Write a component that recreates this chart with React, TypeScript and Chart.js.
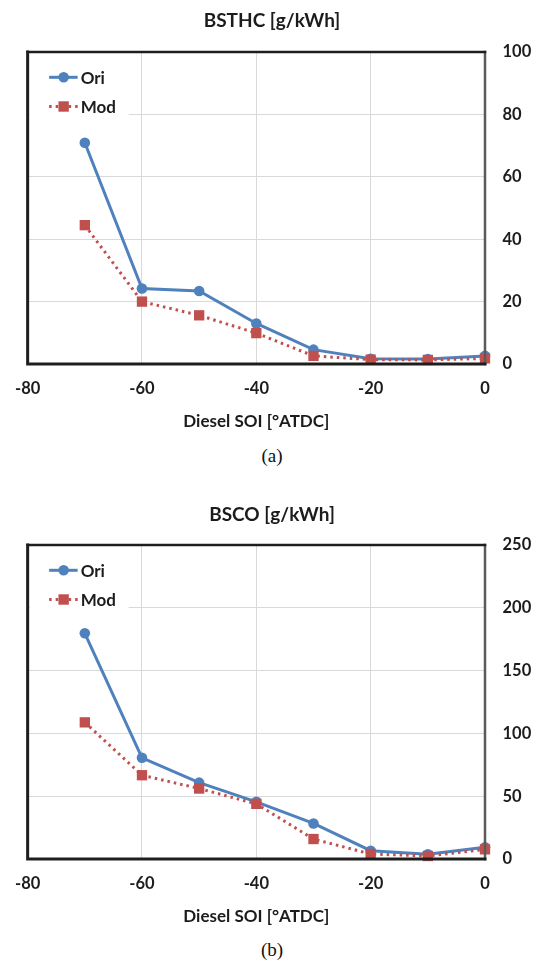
import React, { useEffect, useRef } from 'react';
import { Chart, registerables } from 'chart.js';

Chart.register(...registerables);

// ---- data ----
const soi = [-70, -60, -50, -40, -30, -20, -10, 0];
const bsthcOri = [70.9, 24.2, 23.4, 13.0, 4.6, 1.7, 1.6, 2.6];
const bsthcMod = [44.5, 20.0, 15.6, 9.9, 2.6, 1.4, 1.3, 1.8];
const bscoOri = [179.7, 80.6, 60.8, 45.5, 28.3, 6.6, 3.7, 9.3];
const bscoMod = [108.8, 66.7, 56.1, 43.9, 15.9, 4.0, 2.4, 7.7];
const xTickValues = [-80, -60, -40, -20, 0];
const bsthcTicks = [0, 20, 40, 60, 80, 100];
const bscoTicks = [0, 50, 100, 150, 200, 250];
const seriesNames = ['Ori', 'Mod'];
const xTitle = 'Diesel SOI [°ATDC]';

const FONT = 'Lato, "Open Sans", "DejaVu Sans", sans-serif';
const TEXT = '#1c1c1c';
const BLUE = '#4f81bd';
const RED = '#c0504d';
const GRID = '#d9d9d9';

type PanelProps = {
  title: string;
  ori: number[];
  mod: number[];
  yTicks: number[];
  top: number;
  areaTop: number;
  xAxisHeight: number;
  xTitlePad: number;
  titleY: number;
  caption: string;
  captionY: number;
};

const decorPlugin = {
  id: 'decor',
  afterDatasetsDraw(chart: any) {
    const { ctx, chartArea } = chart;
    const { left, right, top, bottom } = chartArea;
    ctx.save();
    // legend background
    ctx.fillStyle = '#ffffff';
    ctx.fillRect(left + 2, top + 2, 99, 64);
    // legend items
    const ds = chart.data.datasets;
    const rows = [25.3, 54.5];
    ds.forEach((d: any, i: number) => {
      const y = top + rows[i];
      ctx.save();
      ctx.strokeStyle = d.borderColor;
      ctx.lineWidth = d.borderWidth;
      ctx.setLineDash(d.borderDash || []);
      ctx.beginPath();
      ctx.moveTo(left + 21.5, y);
      ctx.lineTo(left + 50, y);
      ctx.stroke();
      ctx.setLineDash([]);
      ctx.fillStyle = d.backgroundColor;
      if (d.pointStyle === 'rect') {
        const s = 5.2;
        ctx.fillRect(left + 36 - s, y - s, 2 * s, 2 * s);
      } else {
        ctx.beginPath();
        ctx.arc(left + 36, y, d.pointRadius, 0, Math.PI * 2);
        ctx.fill();
      }
      ctx.restore();
      ctx.fillStyle = TEXT;
      ctx.font = `bold 17px ${FONT}`;
      ctx.textAlign = 'left';
      ctx.textBaseline = 'middle';
      ctx.fillText(d.label, left + 53, y + 1);
    });
    // frame
    ctx.lineCap = 'square';
    ctx.strokeStyle = '#5a5a5a';
    ctx.lineWidth = 2.5;
    ctx.beginPath();
    ctx.moveTo(right, top);
    ctx.lineTo(right, bottom);
    ctx.stroke();
    ctx.strokeStyle = '#1e1e1e';
    ctx.lineWidth = 2.5;
    ctx.beginPath();
    ctx.moveTo(left, top);
    ctx.lineTo(right, top);
    ctx.stroke();
    ctx.lineWidth = 3;
    ctx.beginPath();
    ctx.moveTo(left, top);
    ctx.lineTo(left, bottom);
    ctx.lineTo(right, bottom);
    ctx.stroke();
    ctx.restore();
  },
  afterDraw(chart: any, _args: any, opts: any) {
    const { ctx } = chart;
    ctx.save();
    ctx.fillStyle = TEXT;
    ctx.font = `bold 19px ${FONT}`;
    ctx.textAlign = 'center';
    ctx.textBaseline = 'middle';
    ctx.fillText(opts.text, 272, opts.y);
    ctx.restore();
  },
};

function Panel(p: PanelProps) {
  const ref = useRef<HTMLCanvasElement | null>(null);
  useEffect(() => {
    if (!ref.current) return;
    const yMax = p.yTicks[p.yTicks.length - 1];
    const chart = new Chart(ref.current, {
      type: 'line',
      data: {
        datasets: [
          {
            label: seriesNames[0],
            data: soi.map((x, i) => ({ x, y: p.ori[i] })),
            borderColor: BLUE,
            backgroundColor: BLUE,
            borderWidth: 3,
            pointStyle: 'circle',
            pointRadius: 5.3,
            pointBorderWidth: 0,
            tension: 0,
            clip: false,
            order: 1,
          },
          {
            label: seriesNames[1],
            data: soi.map((x, i) => ({ x, y: p.mod[i] })),
            borderColor: RED,
            backgroundColor: RED,
            borderWidth: 3,
            borderDash: [2.5, 4],
            pointStyle: 'rect',
            pointRadius: 7.3,
            pointBorderWidth: 0,
            tension: 0,
            clip: false,
            order: 0,
          },
        ],
      } as any,
      options: {
        animation: false,
        responsive: false,
        events: [],
        layout: { padding: { left: 26, top: p.areaTop, right: 0, bottom: 0 } },
        plugins: {
          legend: { display: false },
          title: { display: false },
          tooltip: { enabled: false },
          decor: { text: p.title, y: p.titleY },
        } as any,
        scales: {
          x: {
            type: 'linear',
            position: 'bottom',
            min: -80,
            max: 0,
            afterBuildTicks: (s: any) => {
              s.ticks = xTickValues.map((v) => ({ value: v }));
            },
            afterFit: (s: any) => {
              s.height = p.xAxisHeight;
            },
            grid: { color: GRID, lineWidth: 1, drawTicks: false },
            border: { display: false },
            ticks: {
              padding: 15,
              color: TEXT,
              autoSkip: false,
              maxRotation: 0,
              font: { family: FONT, size: 16.5, weight: 'bold' },
              callback: (v: any) => String(v),
            },
            title: {
              display: true,
              text: xTitle,
              color: TEXT,
              font: { family: FONT, size: 17, weight: 'bold' },
              padding: { top: 0, bottom: p.xTitlePad },
            },
          },
          y: {
            type: 'linear',
            position: 'right',
            min: 0,
            max: yMax,
            afterBuildTicks: (s: any) => {
              s.ticks = p.yTicks.map((v) => ({ value: v }));
            },
            afterFit: (s: any) => {
              s.width = 51;
            },
            grid: { color: GRID, lineWidth: 1, drawTicks: false },
            border: { display: false },
            ticks: {
              padding: 17.5,
              color: TEXT,
              font: { family: FONT, size: 16.5, weight: 'bold' },
              callback: (v: any) => String(v),
            },
          },
        },
      } as any,
      plugins: [decorPlugin],
    });
    return () => chart.destroy();
  }, []);

  return (
    <>
      <div style={{ position: 'absolute', left: 0, top: p.top, width: 536, height: 440 }}>
        <canvas ref={ref} width={536} height={440} style={{ display: 'block' }} />
      </div>
      <div
        style={{
          position: 'absolute',
          left: 172,
          width: 200,
          top: p.top + p.captionY - 12,
          height: 24,
          lineHeight: '24px',
          textAlign: 'center',
          fontFamily: '"Liberation Serif", "Times New Roman", serif',
          fontSize: 19,
          color: '#111',
        }}
      >
        {p.caption}
      </div>
    </>
  );
}

export default function App() {
  return (
    <div style={{ position: 'absolute', left: 0, top: 0, width: 536, height: 960, background: '#fff' }}>
      <Panel
        title="BSTHC [g/kWh]"
        ori={bsthcOri}
        mod={bsthcMod}
        yTicks={bsthcTicks}
        top={0}
        areaTop={52}
        xAxisHeight={76}
        xTitlePad={8}
        titleY={21}
        caption="(a)"
        captionY={456}
      />
      <Panel
        title="BSCO [g/kWh]"
        ori={bscoOri}
        mod={bscoMod}
        yTicks={bscoTicks}
        top={490}
        areaTop={55}
        xAxisHeight={71}
        xTitlePad={3}
        titleY={25}
        caption="(b)"
        captionY={460}
      />
    </div>
  );
}
